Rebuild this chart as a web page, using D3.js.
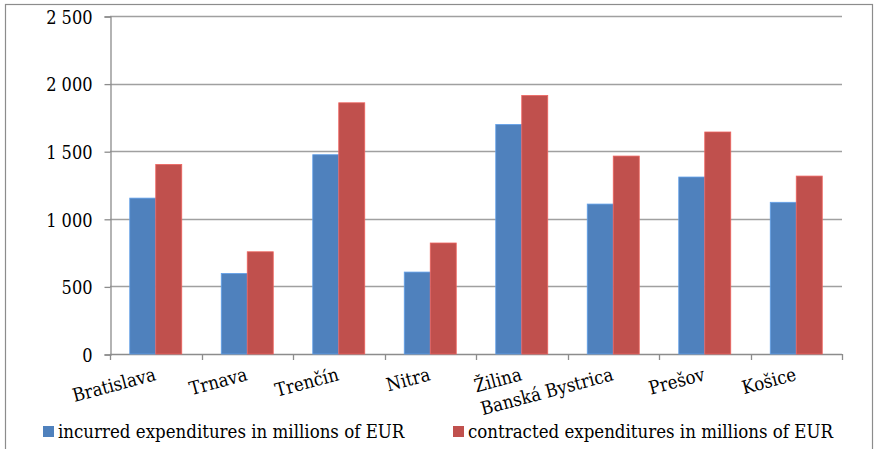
<!DOCTYPE html>
<html><head><meta charset="utf-8">
<script src="https://cdn.jsdelivr.net/npm/d3@7"></script>
<style>
html,body{margin:0;padding:0;background:#fff;}
svg{display:block;}
</style></head>
<body>
<svg id="chart" width="875" height="449"></svg>
<script>
const categories = ["Bratislava","Trnava","Trenčín","Nitra","Žilina","Banská Bystrica","Prešov","Košice"];
const incurred = [1153, 596, 1474, 606, 1698, 1109, 1309, 1122];
const contracted = [1402, 756, 1858, 821, 1912, 1464, 1642, 1316];
const seriesNames = ["incurred expenditures in millions of EUR","contracted expenditures in millions of EUR"];
const yTicks = [0, 500, 1000, 1500, 2000, 2500];
const colors = ["#4F81BD", "#C0504D"];

(function(){
const FONT = "DejaVu Serif Condensed";
const svg = d3.select("#chart");
const mLeft = 110, mRight = 842, mTop = 16, mBottom = 354;

svg.append("rect").attr("x",5.5).attr("y",4.5).attr("width",867).attr("height",460)
  .attr("fill","none").attr("stroke","#8c8c8c").attr("stroke-width",1.2);

const x = d3.scaleBand().domain(categories).range([mLeft, mRight]).paddingInner(0).paddingOuter(0);
const y = d3.scaleLinear().domain([0, 2500]).range([mBottom, mTop]);
const bw = 26;

svg.append("g").selectAll("line").data(yTicks.filter(d=>d>0)).join("line")
  .attr("x1", mLeft).attr("x2", mRight)
  .attr("y1", d=>Math.round(y(d))+0.5).attr("y2", d=>Math.round(y(d))+0.5)
  .attr("stroke","#a0a0a0").attr("stroke-width",1.3);

const yAxis = d3.axisLeft(y).tickValues(yTicks).tickSize(6).tickPadding(12)
  .tickFormat(d => d3.format(",")(d).replace(",", " "));
const gy = svg.append("g").attr("transform",`translate(${mLeft+0.5},0.5)`).call(yAxis);
gy.attr("font-family", null).attr("font-size", null);
gy.select(".domain").attr("stroke","#8c8c8c").attr("stroke-width",1.3);
gy.selectAll(".tick line").attr("stroke","#8c8c8c").attr("stroke-width",1.3);
gy.selectAll(".tick text").attr("dy","0.38em").attr("fill","#000")
  .style("font-family", FONT).style("font-size","18px");

svg.append("line").attr("x1",mLeft).attr("x2",mRight).attr("y1",mBottom+0.5).attr("y2",mBottom+0.5)
  .attr("stroke","#8c8c8c").attr("stroke-width",1.3);
const bounds = categories.map(c=>x(c)).concat([mRight]);
svg.append("g").selectAll("line").data(bounds).join("line")
  .attr("x1",d=>Math.round(d)+0.5).attr("x2",d=>Math.round(d)+0.5)
  .attr("y1",mBottom).attr("y2",mBottom+6)
  .attr("stroke","#8c8c8c").attr("stroke-width",1.3);

const series = [incurred, contracted];
series.forEach((vals, si) => {
  svg.append("g").selectAll("rect").data(vals).join("rect")
    .attr("x", (d,i) => x(categories[i]) + x.bandwidth()/2 - bw + si*bw)
    .attr("y", d => y(d))
    .attr("width", bw)
    .attr("height", d => mBottom - y(d))
    .attr("fill", colors[si])
    .attr("stroke", d3.color(colors[si]).brighter(0.6))
    .attr("stroke-width", 0.8);
});

svg.append("g").selectAll("text").data(categories).join("text")
  .attr("transform", c => `translate(${x(c)+x.bandwidth()/2+1},380) rotate(-15)`)
  .attr("text-anchor","end")
  .style("font-family", FONT).style("font-size","18.5px").attr("fill","#000")
  .text(c=>c);

const legendX = [43, 453];
seriesNames.forEach((n,i)=>{
  svg.append("rect").attr("x",legendX[i]).attr("y",426).attr("width",11).attr("height",11).attr("fill",colors[i]);
  svg.append("text").attr("x",legendX[i]+15).attr("y",438)
    .style("font-family", FONT).style("font-size","18.5px").attr("fill","#000").text(n);
});
})();
</script>
</body></html>
